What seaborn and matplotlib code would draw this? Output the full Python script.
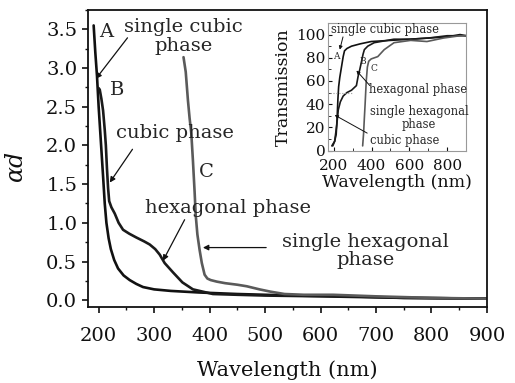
import numpy as np
import pandas as pd
import matplotlib
matplotlib.use("Agg")
import matplotlib.pyplot as plt
import seaborn as sns
from matplotlib.ticker import MultipleLocator

# ---------------- data ----------------
# main panel: absorbance (alpha d) vs wavelength
wl_A = [191, 194, 197, 200, 204, 208, 211, 214, 218, 222, 228, 235, 245, 256, 268,
        280, 300, 330, 380, 450, 550, 650, 750, 900]
ad_A = [3.55, 3.2, 2.9, 2.5, 2.05, 1.6, 1.25, 1.0, 0.8, 0.66, 0.52, 0.41, 0.32, 0.26, 0.21,
        0.17, 0.14, 0.12, 0.10, 0.08, 0.06, 0.05, 0.03, 0.02]

wl_B = [200, 202, 205, 208, 211, 213, 215, 217, 219, 223, 229, 236, 244, 255, 268,
        282, 292, 302, 310, 319, 334, 351, 370, 406, 450, 500, 600, 750, 900]
ad_B = [2.74, 2.72, 2.6, 2.45, 2.2, 2.0, 1.7, 1.45, 1.28, 1.2, 1.12, 1.0, 0.91, 0.86, 0.81,
        0.76, 0.72, 0.66, 0.59, 0.48, 0.36, 0.23, 0.14, 0.08, 0.07, 0.06, 0.05, 0.03, 0.02]

wl_C = [353, 357, 361, 364, 367, 370, 373, 375, 378, 382, 386, 391, 396, 402, 413,
        428, 450, 467, 490, 510, 535, 570, 623, 700, 800, 900]
ad_C = [3.14, 2.95, 2.58, 2.35, 2.16, 1.8, 1.4, 1.1, 0.85, 0.65, 0.48, 0.33, 0.28, 0.26, 0.24,
        0.22, 0.2, 0.18, 0.14, 0.11, 0.08, 0.07, 0.07, 0.05, 0.03, 0.02]

# inset: transmission vs wavelength
t_wl_A = [190, 205, 213, 218, 222, 226, 232, 242, 250, 257, 270, 294, 340, 398, 500, 607, 700, 800, 868, 900]
t_A = [4, 8, 14, 28, 44, 55, 63, 73, 81, 86, 88, 90, 92, 94, 95, 96, 97, 98, 100, 99]

t_wl_B = [195, 205, 216, 224, 235, 250, 270, 294, 320, 329, 338, 346, 355, 362, 380, 414, 518, 600, 700, 800, 900]
t_B = [4, 8, 22, 35, 42, 47, 50, 52, 56, 64, 70, 76, 83, 87, 90, 93, 96, 96, 97, 99, 99]

t_wl_C = [353, 358, 362, 366, 372, 378, 385, 398, 433, 467, 519, 607, 693, 780, 868, 900]
t_C = [4, 15, 28, 40, 60, 72, 77, 79, 81, 87, 93, 95, 94, 97, 99, 99]

x_ticks_main = [200, 300, 400, 500, 600, 700, 800, 900]
y_ticks_main = [0.0, 0.5, 1.0, 1.5, 2.0, 2.5, 3.0, 3.5]
x_ticks_inset = [200, 400, 600, 800]
y_ticks_inset = [0, 20, 40, 60, 80, 100]

# ---------------- styling ----------------
sns.set_theme(style="white")
plt.rcParams["font.family"] = ["DejaVu Serif"]
plt.rcParams["mathtext.fontset"] = "dejavuserif"

fig = plt.figure(figsize=(5.15, 3.83), dpi=100)
ax = fig.add_axes([0.170, 0.198, 0.7755, 0.776])

main_df = pd.concat([
    pd.DataFrame({"wl": wl_A, "v": ad_A, "s": "A"}),
    pd.DataFrame({"wl": wl_B, "v": ad_B, "s": "B"}),
    pd.DataFrame({"wl": wl_C, "v": ad_C, "s": "C"}),
])
pal = {"A": "#111111", "B": "#1a1a1a", "C": "#5a5a5a"}
sns.lineplot(data=main_df, x="wl", y="v", hue="s", palette=pal, estimator=None,
             sort=False, linewidth=1.9, legend=False, ax=ax)

ax.set_xlim(180, 900)
ax.set_ylim(-0.09, 3.75)
ax.set_xticks(x_ticks_main)
ax.set_yticks(y_ticks_main)
ax.set_yticklabels([f"{t:.1f}" for t in y_ticks_main])
ax.xaxis.set_minor_locator(MultipleLocator(50))
ax.yaxis.set_minor_locator(MultipleLocator(0.25))
ax.tick_params(axis="both", which="major", direction="out", length=4.5, width=1.2,
               labelsize=14, colors="#111111", bottom=True, left=True, pad=3)
ax.tick_params(axis="both", which="minor", direction="out", length=2.5, width=1.0,
               bottom=True, left=True, colors="#111111")
ax.tick_params(axis="x", which="major", pad=10)
for sp in ax.spines.values():
    sp.set_color("#111111")
    sp.set_linewidth(1.3)
ax.set_xlabel("Wavelength (nm)", fontsize=15, color="#111111", labelpad=11)
ax.set_ylabel(r"$\alpha d$", fontsize=17, color="#111111")
ax.yaxis.set_label_coords(-0.149, 0.473)

akw = dict(arrowprops=dict(arrowstyle="-|>", color="#111111", lw=0.9,
                           mutation_scale=8, shrinkA=0, shrinkB=0))
fs = 14
ax.text(214, 3.47, "A", fontsize=fs, ha="center", va="center")
ax.text(353, 3.41, "single cubic\nphase", fontsize=fs, ha="center", va="center",
        multialignment="center", linespacing=1.05)
ax.annotate("", xy=(195, 2.86), xytext=(252, 3.39), **akw)
ax.text(233, 2.72, "B", fontsize=fs, ha="center", va="center")
ax.text(337, 2.16, "cubic phase", fontsize=fs, ha="center", va="center")
ax.annotate("", xy=(220, 1.52), xytext=(261, 1.95), **akw)
ax.text(394, 1.65, "C", fontsize=fs, ha="center", va="center")
ax.text(433, 1.19, "hexagonal phase", fontsize=fs, ha="center", va="center")
ax.annotate("", xy=(316, 0.51), xytext=(355, 1.04), **akw)
ax.text(681, 0.64, "single hexagonal\nphase", fontsize=fs, ha="center", va="center",
        multialignment="center", linespacing=1.0)
ax.annotate("", xy=(388, 0.68), xytext=(502, 0.68), **akw)

# ---------------- inset ----------------
ins = fig.add_axes([0.637, 0.607, 0.268, 0.333])
ins_df = pd.concat([
    pd.DataFrame({"wl": t_wl_A, "v": t_A, "s": "A"}),
    pd.DataFrame({"wl": t_wl_B, "v": t_B, "s": "B"}),
    pd.DataFrame({"wl": t_wl_C, "v": t_C, "s": "C"}),
])
sns.lineplot(data=ins_df, x="wl", y="v", hue="s", palette=pal, estimator=None,
             sort=False, linewidth=1.2, legend=False, ax=ins)
ins.plot([179, 303], [50, 50], ls=":", color="#999999", lw=0.8)
ins.set_xlim(170, 900)
ins.set_ylim(0, 110)
ins.set_xticks(x_ticks_inset)
ins.set_yticks(y_ticks_inset)
ins.xaxis.set_minor_locator(MultipleLocator(100))
ins.yaxis.set_minor_locator(MultipleLocator(10))
ins.tick_params(axis="both", which="major", direction="in", length=3, width=0.8,
                labelsize=11, colors="#111111", bottom=True, left=True, pad=2)
ins.tick_params(axis="both", which="minor", direction="in", length=2, width=0.6,
                bottom=True, left=True, colors="#111111")
ins.tick_params(axis="x", which="major", pad=6)
for sp in ins.spines.values():
    sp.set_color("#999999")
    sp.set_linewidth(0.8)
ins.set_xlabel("Wavelength (nm)", fontsize=12.5, color="#111111", labelpad=1)
ins.set_ylabel("Transmission", fontsize=12.5, color="#111111", labelpad=3)

ikw = dict(arrowprops=dict(arrowstyle="-|>", color="#111111", lw=0.7,
                           mutation_scale=5, shrinkA=0, shrinkB=0))
ifs = 8.3
ins.text(188, 104, "single cubic phase", fontsize=ifs, ha="left", va="center")
ins.annotate("", xy=(232, 87), xytext=(249, 98), **ikw)
ins.text(214, 81, "A", fontsize=6.5, ha="center", va="center")
ins.text(352, 77, "B", fontsize=6.5, ha="center", va="center")
ins.text(412, 71, "C", fontsize=6.5, ha="center", va="center")
ins.text(388, 53, "hexagonal phase", fontsize=ifs, ha="left", va="center")
ins.annotate("", xy=(320, 69), xytext=(391, 56), **ikw)
ins.text(391, 28, "single hexagonal\nphase", fontsize=ifs, ha="left", va="center",
         multialignment="center", linespacing=0.95)
ins.text(391, 8.6, "cubic phase", fontsize=ifs, ha="left", va="center")
ins.annotate("", xy=(205, 30.6), xytext=(377, 15), **ikw)

fig.savefig("out.png", dpi=100)
